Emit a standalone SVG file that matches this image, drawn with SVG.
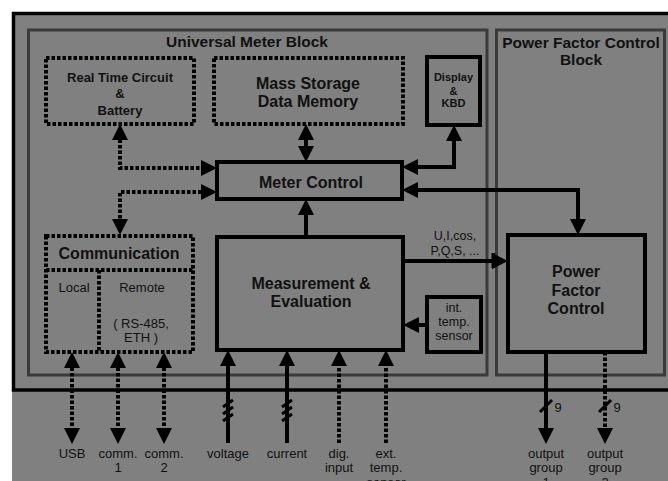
<svg xmlns="http://www.w3.org/2000/svg" width="668" height="481" viewBox="0 0 668 481">
<style>
.bg{fill:#808080}
.frame{fill:none;stroke:#000;stroke-width:3.5}
.blk{fill:none;stroke:#3a3a3a;stroke-width:3}
.box{fill:none;stroke:#000;stroke-width:4}
.dbox{fill:none;stroke:#000;stroke-width:4;stroke-dasharray:3.5 2}
.ln{fill:none;stroke:#000;stroke-width:4}
.dl{fill:none;stroke:#000;stroke-width:4;stroke-dasharray:3.5 2}
.tk{fill:none;stroke:#000;stroke-width:3}
text{font-family:"Liberation Sans",Arial,sans-serif;fill:#111;text-anchor:middle}
.b{font-weight:bold}
</style>
<defs>
<marker id="ah" viewBox="0 0 16 16" markerWidth="16" markerHeight="16" refX="6" refY="8" orient="auto-start-reverse" markerUnits="userSpaceOnUse">
<path d="M0,0 L16,8 L0,16 Z" fill="#000"/>
</marker>
</defs>
<rect x="0" y="0" width="668" height="481" fill="#fff"/>
<rect class="bg" x="12" y="12" width="656" height="469"/>
<path class="frame" d="M670,13.5 H13.5 V390 H670"/>

<g id="universal-meter-block">
<rect class="blk" x="28.5" y="30" width="458.5" height="345"/>
<text class="b" x="247" y="47" font-size="15.5">Universal Meter Block</text>
</g>
<g id="power-factor-control-block">
<rect class="blk" x="496.5" y="30" width="168" height="345"/>
<text class="b" x="581" y="48" font-size="15.5">Power Factor Control</text>
<text class="b" x="581" y="65" font-size="15.5">Block</text>
</g>

<g id="real-time-circuit">
<rect class="dbox" x="46" y="58" width="148" height="66"/>
<text class="b" x="120" y="82" font-size="13">Real Time Circuit</text>
<text class="b" x="120" y="98" font-size="13">&amp;</text>
<text class="b" x="120" y="115" font-size="13">Battery</text>
</g>
<g id="mass-storage">
<rect class="dbox" x="214" y="58" width="189" height="66"/>
<text class="b" x="308" y="89" font-size="16">Mass Storage</text>
<text class="b" x="308" y="107" font-size="16">Data Memory</text>
</g>
<g id="display-kbd">
<rect class="box" x="427" y="57" width="53" height="68"/>
<text class="b" x="453.5" y="81" font-size="11">Display</text>
<text class="b" x="453.5" y="95" font-size="11">&amp;</text>
<text class="b" x="453.5" y="107" font-size="11">KBD</text>
</g>
<g id="meter-control">
<rect class="box" x="217" y="162" width="185" height="37"/>
<text class="b" x="311" y="188" font-size="16">Meter Control</text>
</g>
<g id="communication">
<rect class="dbox" x="46" y="236" width="147" height="116"/>
<path class="dl" d="M46,270 H193 M99,270 V352"/>
<text class="b" x="119" y="259" font-size="16">Communication</text>
<text x="74" y="292" font-size="13">Local</text>
<text x="142" y="292" font-size="13">Remote</text>
<text x="141" y="328" font-size="13">( RS-485,</text>
<text x="141" y="342" font-size="13">ETH )</text>
</g>
<g id="measurement-evaluation">
<rect class="box" x="217" y="237" width="186" height="113"/>
<text class="b" x="311" y="289" font-size="16">Measurement &amp;</text>
<text class="b" x="311" y="307" font-size="16">Evaluation</text>
</g>
<g id="int-temp-sensor">
<rect class="box" x="427" y="297" width="54" height="55"/>
<text x="454" y="312" font-size="12.5">int.</text>
<text x="454" y="326" font-size="12.5">temp.</text>
<text x="454" y="340" font-size="12.5">sensor</text>
</g>
<g id="power-factor-control">
<rect class="box" x="508" y="235" width="137" height="117"/>
<text class="b" x="576" y="277" font-size="16">Power</text>
<text class="b" x="576" y="296" font-size="16">Factor</text>
<text class="b" x="576" y="314" font-size="16">Control</text>
</g>

<g id="connectors">
<path class="ln" d="M306,134 V152" marker-start="url(#ah)" marker-end="url(#ah)"/>
<path class="dl" d="M120,134 V168 H207" marker-start="url(#ah)" marker-end="url(#ah)"/>
<path class="dl" d="M207,192 H120 V225" marker-start="url(#ah)" marker-end="url(#ah)"/>
<path class="ln" d="M454,135 V167 H412" marker-start="url(#ah)" marker-end="url(#ah)"/>
<path class="ln" d="M412,190 H578 V225" marker-start="url(#ah)" marker-end="url(#ah)"/>
<path class="ln" d="M306,237 V209" marker-end="url(#ah)"/>
<path class="ln" d="M403,261 H498" marker-end="url(#ah)"/>
<rect x="491.5" y="253" width="3.5" height="15" fill="#000"/>
<text x="455" y="240" font-size="12.5">U,I,cos,</text>
<text x="455" y="255" font-size="12.5">P,Q,S, ...</text>
<path class="ln" d="M427,325 H413" marker-end="url(#ah)"/>

<path class="dl" d="M72,362 V434" marker-start="url(#ah)" marker-end="url(#ah)"/>
<path class="dl" d="M118,362 V434" marker-start="url(#ah)" marker-end="url(#ah)"/>
<path class="dl" d="M164,362 V434" marker-start="url(#ah)" marker-end="url(#ah)"/>

<path class="ln" d="M228,443 V360" marker-end="url(#ah)"/>
<path class="ln" d="M287,443 V360" marker-end="url(#ah)"/>
<path class="dl" d="M339,443 V360" marker-end="url(#ah)"/>
<path class="dl" d="M386,443 V360" marker-end="url(#ah)"/>
<path class="tk" d="M223,407 L233,400 M223,414 L233,407 M223,421 L233,414"/>
<path class="tk" d="M282,407 L292,400 M282,414 L292,407 M282,421 L292,414"/>

<path class="ln" d="M546,352 V434" marker-end="url(#ah)"/>
<path class="dl" d="M605,352 V434" marker-end="url(#ah)"/>
<path class="tk" d="M540,412 L552,400"/>
<path class="tk" d="M599,412 L611,400"/>
<text x="558" y="412" font-size="13">9</text>
<text x="617" y="412" font-size="13">9</text>
</g>

<g id="labels">
<text x="72" y="458" font-size="13">USB</text>
<text x="118" y="458" font-size="13">comm.</text>
<text x="118" y="472" font-size="13">1</text>
<text x="164" y="458" font-size="13">comm.</text>
<text x="164" y="472" font-size="13">2</text>
<text x="228" y="458" font-size="13">voltage</text>
<text x="287" y="458" font-size="13">current</text>
<text x="339" y="458" font-size="13">dig.</text>
<text x="339" y="472" font-size="13">input</text>
<text x="386" y="458" font-size="13">ext.</text>
<text x="386" y="472" font-size="13">temp.</text>
<text x="386" y="487" font-size="13">sensor</text>
<text x="546" y="458" font-size="13">output</text>
<text x="546" y="472" font-size="13">group</text>
<text x="546" y="487" font-size="13">1</text>
<text x="605" y="458" font-size="13">output</text>
<text x="605" y="472" font-size="13">group</text>
<text x="605" y="487" font-size="13">2</text>
</g>
</svg>
